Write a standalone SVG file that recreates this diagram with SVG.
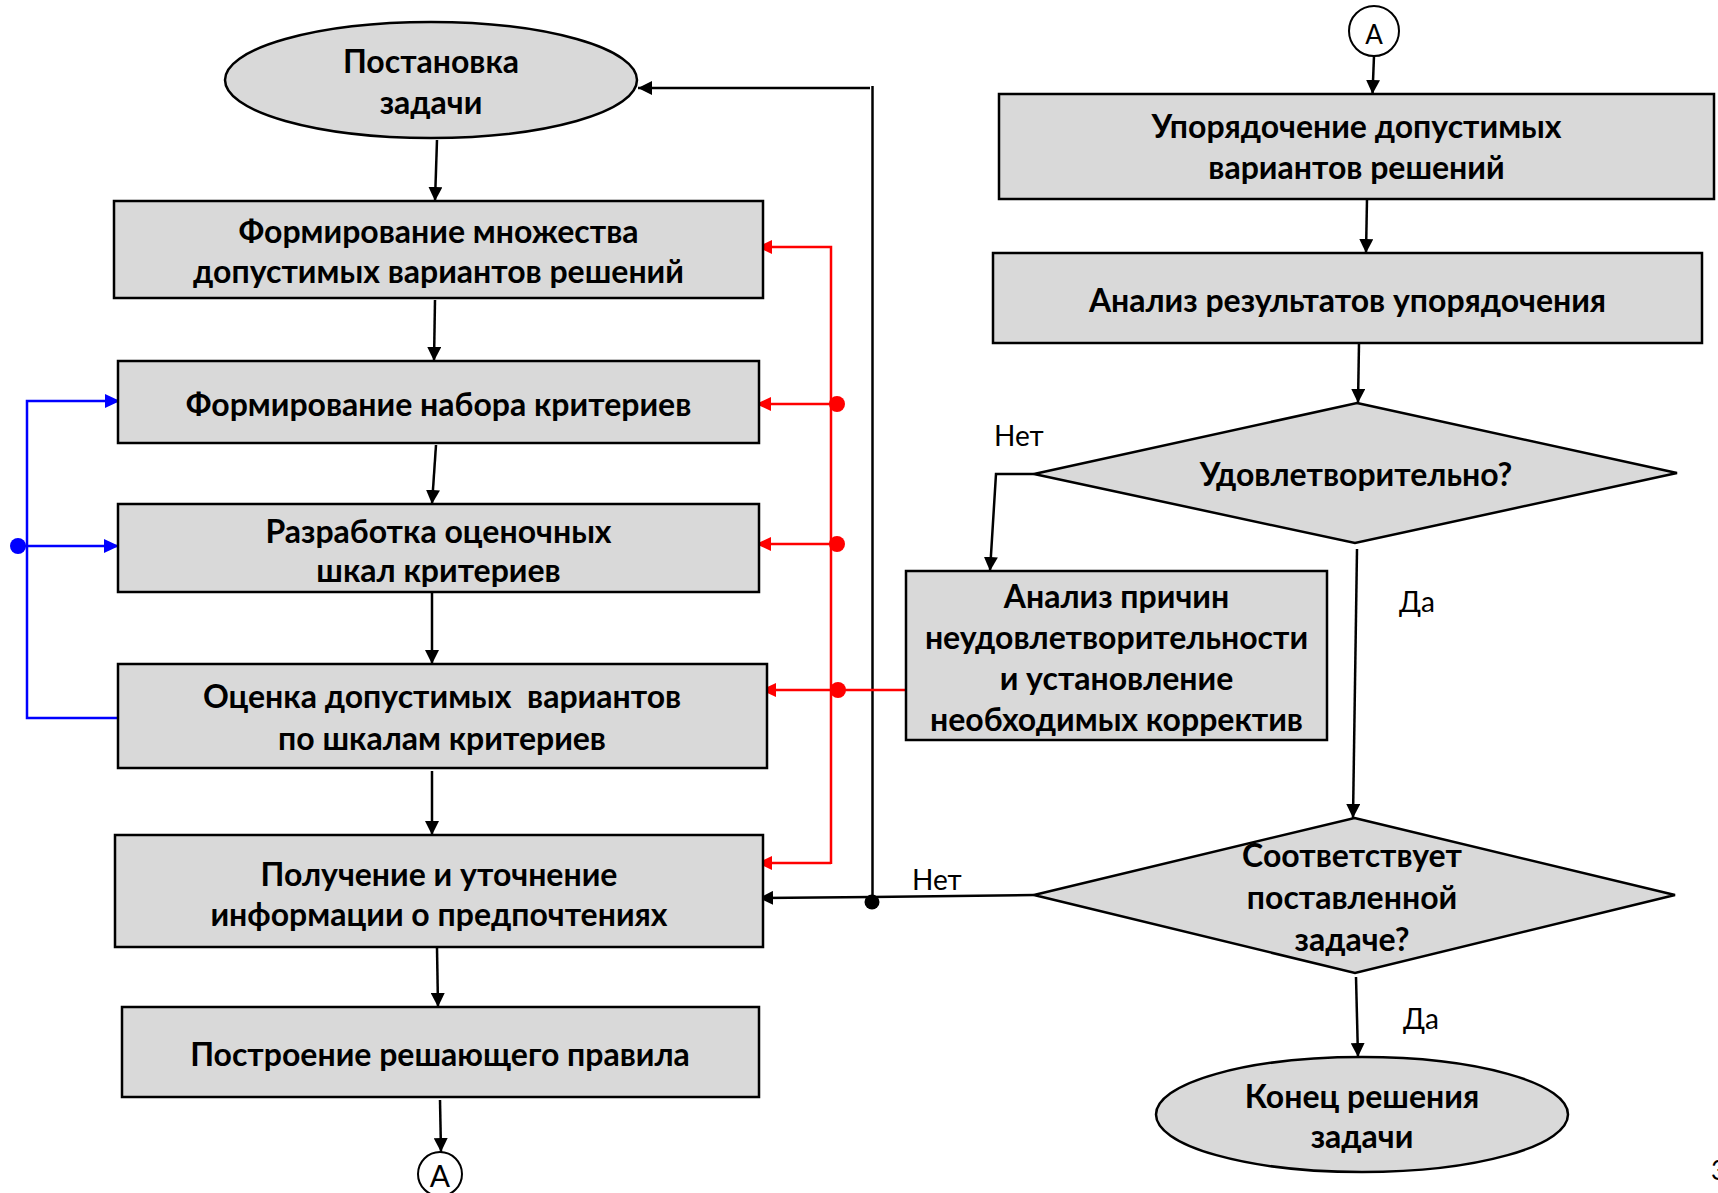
<svg xmlns="http://www.w3.org/2000/svg" width="1718" height="1193" viewBox="0 0 1718 1193">
<style>
.box{fill:#d9d9d9;stroke:#000;stroke-width:2.5}
.t{font-family:Lato,Roboto,"Open Sans",sans-serif;font-weight:700;font-size:32px;text-anchor:middle;fill:#000}
.l{font-family:Lato,Roboto,"Open Sans",sans-serif;font-weight:400;font-size:28px;fill:#000}
.c{fill:#fff;stroke:#000;stroke-width:2}
.k{fill:none;stroke:#000;stroke-width:2.5}
.r{fill:none;stroke:#ff0000;stroke-width:2.5}
.b{fill:none;stroke:#0000ff;stroke-width:2.5}
</style>
<defs>
<marker id="ak" markerWidth="14" markerHeight="14" refX="14" refY="7" orient="auto" markerUnits="userSpaceOnUse"><path d="M0,0 L14,7 L0,14 z" fill="#000"/></marker>
<marker id="ar" markerWidth="15" markerHeight="14" refX="15" refY="7" orient="auto" markerUnits="userSpaceOnUse"><path d="M0,0 L15,7 L0,14 z" fill="#ff0000"/></marker>
<marker id="ab" markerWidth="15" markerHeight="14" refX="15" refY="7" orient="auto" markerUnits="userSpaceOnUse"><path d="M0,0 L15,7 L0,14 z" fill="#0000ff"/></marker>
</defs>
<rect width="1718" height="1193" fill="#fff"/>

<g id="connectors">
<path class="k" d="M437,140 L435,201" marker-end="url(#ak)"/>
<path class="k" d="M435,300 L434,361" marker-end="url(#ak)"/>
<path class="k" d="M436,445 L432,504" marker-end="url(#ak)"/>
<path class="k" d="M432,592 L432,664" marker-end="url(#ak)"/>
<path class="k" d="M432,771 L432,835" marker-end="url(#ak)"/>
<path class="k" d="M437,948 L438,1007" marker-end="url(#ak)"/>
<path class="k" d="M440,1100 L441,1152" marker-end="url(#ak)"/>
<path class="k" d="M1374,56 L1372.5,94" marker-end="url(#ak)"/>
<path class="k" d="M1367,199 L1366,253" marker-end="url(#ak)"/>
<path class="k" d="M1359,343 L1358,403" marker-end="url(#ak)"/>
<path class="k" d="M1034,474 L996,474 L990,571" marker-end="url(#ak)"/>
<path class="k" d="M1357,549 L1353,818" marker-end="url(#ak)"/>
<path class="k" d="M1356,977 L1358,1057" marker-end="url(#ak)"/>
<path class="k" d="M1034,895 L872,897 L759,898" marker-end="url(#ak)"/>
<path class="k" d="M872.5,903 L872.5,86"/>
<path class="k" d="M870,88 L638,88" marker-end="url(#ak)"/>
<circle cx="872" cy="902" r="7.5" fill="#000"/>

<path class="r" d="M831,864 L831,247 L757,247" marker-end="url(#ar)"/>
<path class="r" d="M831,863 L757,863" marker-end="url(#ar)"/>
<path class="r" d="M837,404 L756,404" marker-end="url(#ar)"/>
<path class="r" d="M837,544 L756,544" marker-end="url(#ar)"/>
<path class="r" d="M906,690 L761,690" marker-end="url(#ar)"/>
<circle cx="837" cy="404" r="8" fill="#ff0000"/>
<circle cx="837" cy="544" r="8" fill="#ff0000"/>
<circle cx="838" cy="690" r="8" fill="#ff0000"/>

<path class="b" d="M118,718 L27,718 L27,401 L120,401" marker-end="url(#ab)"/>
<path class="b" d="M18,546 L119,546" marker-end="url(#ab)"/>
<circle cx="18" cy="546" r="8" fill="#0000ff"/>

<text class="l" x="994" y="446">Нет</text>
<text class="l" x="912" y="890">Нет</text>
<text class="l" x="1399" y="612">Да</text>
<text class="l" x="1403" y="1029">Да</text>
</g>

<g id="start">
<ellipse class="box" cx="431" cy="80" rx="206" ry="58"/>
<text class="t" x="431" y="73">Постановка</text>
<text class="t" x="431" y="114">задачи</text>
</g>
<g id="n1">
<rect class="box" x="114" y="201" width="649" height="97"/>
<text class="t" x="438.5" y="243">Формирование множества</text>
<text class="t" x="438.5" y="283">допустимых вариантов решений</text>
</g>
<g id="n2">
<rect class="box" x="118" y="361" width="641" height="82"/>
<text class="t" x="438.5" y="416">Формирование набора критериев</text>
</g>
<g id="n3">
<rect class="box" x="118" y="504" width="641" height="88"/>
<text class="t" x="438.5" y="543">Разработка оценочных</text>
<text class="t" x="438.5" y="582">шкал критериев</text>
</g>
<g id="n4">
<rect class="box" x="118" y="664" width="649" height="104"/>
<text class="t" x="442" y="708" xml:space="preserve">Оценка допустимых  вариантов</text>
<text class="t" x="442" y="750">по шкалам критериев</text>
</g>
<g id="n5">
<rect class="box" x="115" y="835" width="648" height="112"/>
<text class="t" x="439" y="886">Получение и уточнение</text>
<text class="t" x="439" y="926">информации о предпочтениях</text>
</g>
<g id="n6">
<rect class="box" x="122" y="1007" width="637" height="90"/>
<text class="t" x="440" y="1066">Построение решающего правила</text>
</g>
<g id="connA1">
<circle class="c" cx="440" cy="1174" r="22"/>
<text class="l" x="440" y="1187" style="font-size:30px;text-anchor:middle">A</text>
</g>

<g id="connA2">
<circle class="c" cx="1374" cy="31" r="25"/>
<text class="l" x="1374" y="44" style="font-size:26px;text-anchor:middle">A</text>
</g>
<g id="r1">
<rect class="box" x="999" y="94" width="715" height="105"/>
<text class="t" x="1356.5" y="138">Упорядочение допустимых</text>
<text class="t" x="1356.5" y="179">вариантов решений</text>
</g>
<g id="r2">
<rect class="box" x="993" y="253" width="709" height="90"/>
<text class="t" x="1347.5" y="312">Анализ результатов упорядочения</text>
</g>
<g id="d1">
<polygon class="box" points="1357,403 1677,473 1355,543 1034,474"/>
<text class="t" x="1356" y="486">Удовлетворительно?</text>
</g>
<g id="r3">
<rect class="box" x="906" y="571" width="421" height="169"/>
<text class="t" x="1116.5" y="608">Анализ причин</text>
<text class="t" x="1116.5" y="649">неудовлетворительности</text>
<text class="t" x="1116.5" y="690">и установление</text>
<text class="t" x="1116.5" y="731">необходимых корректив</text>
</g>
<g id="d2">
<polygon class="box" points="1354.5,818 1675,895 1355,973 1034,895"/>
<text class="t" x="1352" y="867">Соответствует</text>
<text class="t" x="1352" y="909">поставленной</text>
<text class="t" x="1352" y="951">задаче?</text>
</g>
<g id="end">
<ellipse class="box" cx="1362" cy="1114.5" rx="206" ry="57.5"/>
<text class="t" x="1362" y="1108">Конец решения</text>
<text class="t" x="1362" y="1148">задачи</text>
</g>
<text class="l" x="1711" y="1180" style="font-size:26px">3</text>
</svg>
